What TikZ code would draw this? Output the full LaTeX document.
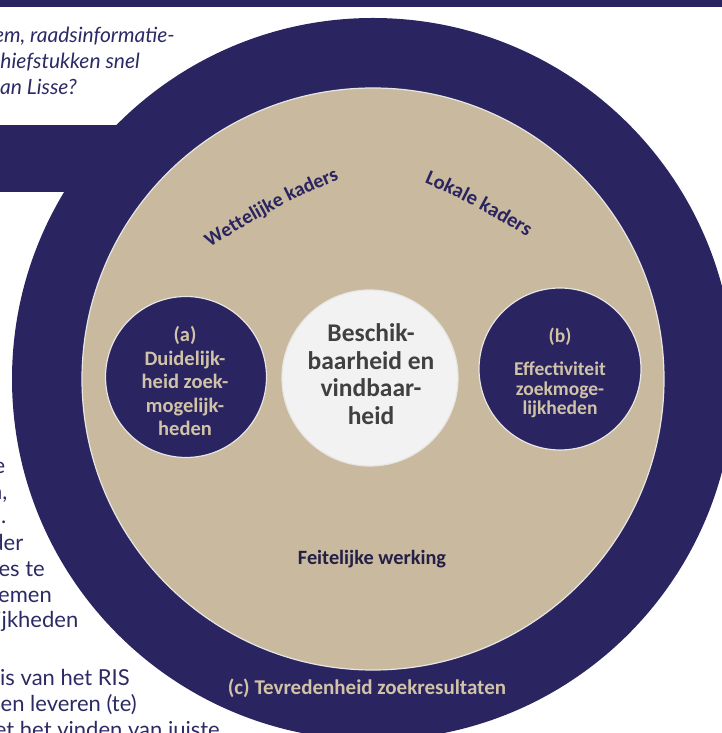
\documentclass[tikz,border=0pt]{standalone}
\usepackage{fontspec}
\setmainfont{Carlito}
\newfontfamily\latofont{Lato}
\usetikzlibrary{decorations.text}
\definecolor{navy}{RGB}{42,36,96}
\definecolor{beige}{RGB}{201,186,159}
\definecolor{beigetext}{RGB}{208,195,168}
\definecolor{ctrwhite}{RGB}{242,242,242}
\definecolor{ringline}{RGB}{232,230,228}
\definecolor{darkgrey}{RGB}{64,64,64}
\definecolor{darknavy}{RGB}{35,31,69}
\definecolor{bodynavy}{RGB}{44,42,100}
\begin{document}
\begin{tikzpicture}[x=1pt,y=1pt,
  navyfill/.style={fill=navy},
  ringcircle/.style={circle, draw=ringline, line width=1.2pt, inner sep=0pt},
  lblA/.style={anchor=base, inner sep=0pt, text=beigetext, font=\fontsize{20.5}{24}\selectfont\bfseries},
  lblB/.style={anchor=base, inner sep=0pt, text=beigetext, font=\fontsize{19.5}{23}\selectfont\bfseries},
  lblC/.style={anchor=base, inner sep=0pt, text=darkgrey, font=\fontsize{25.5}{28}\selectfont\bfseries},
  bodyline/.style={anchor=base east, inner sep=0pt, text=bodynavy, font=\fontsize{22}{26}\selectfont\latofont},
  introline/.style={anchor=base east, inner sep=0pt, text=bodynavy, font=\fontsize{21}{26}\selectfont\latofont\itshape}
]
\useasboundingbox (0,0) rectangle (722,733);
\clip (0,0) rectangle (722,733);
% background page elements
\fill[navy] (0,726) rectangle (722,733);
\fill[navy] (0,541) rectangle (250,608);
\node[introline] (i1) at (175,690) {em, raadsinformatie-};
\node[introline] (i2) at (140,664) {hiefstukken snel};
\node[introline] (i3) at (77,638) {an Lisse?};
\node[bodyline] (t1) at (5.5,259) {e};
\node[bodyline] (t2) at (7.5,233) {n,};
\node[bodyline] (t3) at (6.5,209) {.};
\node[bodyline] (t4) at (23.5,182) {der};
\node[bodyline] (t5) at (45,156) {es te};
\node[bodyline] (t6) at (52,130) {emen};
\node[bodyline] (t7) at (78.5,105) {ijkheden};
\node[bodyline] (t8) at (130,47) {sis van het RIS};
\node[bodyline] (t9) at (137,21) {nen leveren (te)};
\node[bodyline] (t10) at (220,-5) {net het vinden van juiste};
% circles
\node[circle, fill=navy, inner sep=0pt, minimum size=722pt] (outer) at (373,354) {};
\node[ringcircle, fill=beige, minimum size=582pt] (inner) at (373,354) {};
\node[ringcircle, fill=navy, minimum size=161pt] (ca) at (186,356) {};
\node[ringcircle, fill=ctrwhite, minimum size=176pt] (cc) at (370,355) {};
\node[ringcircle, fill=navy, minimum size=162pt] (cb) at (560,364) {};
% (a)
\node[lblA] (a1) at (185,391) {(a)};
\node[lblA] (a2) at (185,367.5) {Duidelijk-};
\node[lblA] (a3) at (185,344) {heid zoek-};
\node[lblA] (a4) at (185,320.5) {mogelijk-};
\node[lblA] (a5) at (185,297) {heden};
% centre
\node[lblC] (c1) at (371,391) {Beschik-};
\node[lblC] (c2) at (371,363.5) {baarheid en};
\node[lblC] (c3) at (371,336) {vindbaar-};
\node[lblC] (c4) at (371,308.5) {heid};
% (b)
\node[lblB] (b1) at (560,390) {(b)};
\node[lblB] (b2) at (560,357) {Effectiviteit};
\node[lblB] (b3) at (560,337) {zoekmoge-};
\node[lblB] (b4) at (560,318) {lijkheden};
% curved labels
\coordinate (wO) at (601.4,-95.3);
\coordinate (lO) at (148.1,-92.8);
\path[decorate, decoration={text along path, text align=center,
  text={|\fontsize{20}{24}\selectfont\bfseries\color{navy}|Wettelijke kaders}}]
  (wO) ++(133:700) arc[start angle=133, end angle=103, radius=700];
\path[decorate, decoration={text along path, text align=center,
  text={|\fontsize{20.5}{24}\selectfont\bfseries\color{navy}|Lokale kaders}}]
  (lO) ++(77:700) arc[start angle=77, end angle=47, radius=700];
\node[anchor=base, inner sep=0pt, text=darknavy, font=\fontsize{20.3}{24}\selectfont\bfseries] (fw) at (372,168) {Feitelijke werking};
\node[anchor=base, inner sep=0pt, text=beigetext, font=\fontsize{21}{24}\selectfont\bfseries] (tz) at (367,38) {(c) Tevredenheid zoekresultaten};
\end{tikzpicture}
\end{document}
